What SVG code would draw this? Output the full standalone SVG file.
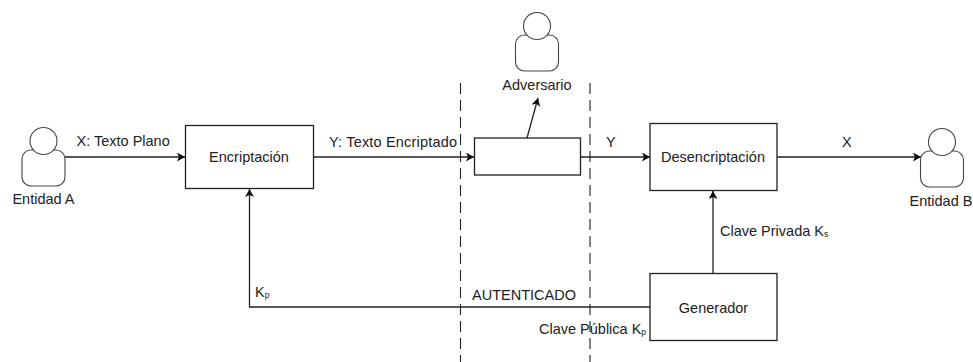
<svg xmlns="http://www.w3.org/2000/svg" width="973" height="362" viewBox="0 0 973 362">
<style>
text{font-family:"Liberation Sans",Arial,sans-serif;font-size:14.5px;fill:#222}
.m{text-anchor:middle}
.s{font-size:8.5px}
.b{fill:#fff;stroke:#222;stroke-width:1.3}
.p{fill:#fff;stroke:#444;stroke-width:1.1}
.c{fill:none;stroke:#222;stroke-width:1.3}
.d{fill:none;stroke:#222;stroke-width:1.1;stroke-dasharray:11 6}
</style>
<defs>
<marker id="a" markerUnits="userSpaceOnUse" markerWidth="9" markerHeight="10" refX="8" refY="4.5" orient="auto"><path d="M0 0L8 4.5L0 9L2 4.5Z" fill="#111"/></marker>
<g id="u"><rect class="p" x="-21.5" y="-6" width="43" height="36" rx="9"/><circle class="p" cx="0" cy="-15" r="13.500"/></g>
</defs>
<g id="connectors">
<path class="d" d="M460.5 83V362"/>
<path class="d" d="M590 83V362"/>
<path class="c" marker-end="url(#a)" d="M65 157H185"/>
<path class="c" marker-end="url(#a)" d="M314 157H474"/>
<path class="c" marker-end="url(#a)" d="M527 138L538 98"/>
<path class="c" marker-end="url(#a)" d="M580 157H650"/>
<path class="c" marker-end="url(#a)" d="M777 157H921"/>
<path class="c" marker-end="url(#a)" d="M713 273V191"/>
<path class="c" marker-end="url(#a)" d="M650 307H249.500V189"/>
</g>
<g id="entidad-a"><use href="#u" x="43.500" y="156"/><text class="m" x="43.500" y="204">Entidad A</text></g>
<g id="adversario"><use href="#u" x="537" y="41"/><text class="m" x="537" y="90">Adversario</text></g>
<g id="entidad-b"><use href="#u" x="942" y="157"/><text class="m" x="941" y="206">Entidad B</text></g>
<g id="encriptacion"><rect class="b" x="185.500" y="125.500" width="128" height="63"/><text class="m" x="249" y="162">Encriptación</text></g>
<g id="canal"><rect class="b" x="474.500" y="138" width="106" height="37"/></g>
<g id="desencriptacion"><rect class="b" x="650" y="123.500" width="127" height="67"/><text class="m" x="713" y="162">Desencriptación</text></g>
<g id="generador"><rect class="b" x="650" y="273.500" width="127" height="67"/><text class="m" x="713.500" y="313">Generador</text></g>
<g id="labels">
<text x="76.500" y="146">X: Texto Plano</text>
<text x="329" y="147" textLength="128">Y: Texto Encriptado</text>
<text x="606" y="147">Y</text>
<text x="842" y="147">X</text>
<text x="720" y="236">Clave Privada K<tspan class="s" dy="1">s</tspan></text>
<text x="255" y="297">K<tspan class="s" dy="1">p</tspan></text>
<text x="472" y="300">AUTENTICADO</text>
<text x="539" y="334">Clave Pública K<tspan class="s" dy="1">p</tspan></text>
</g>
</svg>
